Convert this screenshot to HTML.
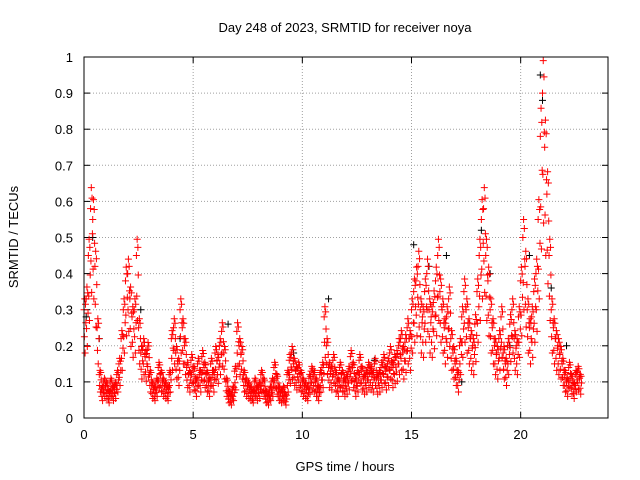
<!DOCTYPE html>
<html><head><meta charset="utf-8"><style>
body{margin:0;background:#fff}
svg{display:block;font-family:"Liberation Sans",sans-serif;font-size:13px}
</style></head><body>
<svg id="c" width="640" height="480">
<text x="345" y="32" text-anchor="middle">Day 248 of 2023, SRMTID for receiver noya</text>
<text x="345" y="471" text-anchor="middle">GPS time / hours</text>
<text transform="translate(18,237) rotate(-90)" text-anchor="middle">SRMTID / TECUs</text>
<g id="grid"></g><g id="marks"></g>
<rect x="84" y="57" width="524" height="361" fill="none" stroke="#000"/>
</svg>
<script>
const xTicks=[0,5,10,15,20];
const yTicks=[0,0.1,0.2,0.3,0.4,0.5,0.6,0.7,0.8,0.9,1];
const yTickLabels=["0","0.1","0.2","0.3","0.4","0.5","0.6","0.7","0.8","0.9","1"];
const tStart=0, tStep=0.1;
const redVals=[
0.30,0.33,0.45,0.58,0.55,0.42,0.25,0.12,0.08,0.10,
0.09,0.07,0.10,0.08,0.09,0.12,0.15,0.22,0.30,0.38,
0.40,0.33,0.28,0.30,0.45,0.25,0.18,0.20,0.17,0.19,
0.12,0.09,0.08,0.10,0.14,0.12,0.10,0.09,0.08,0.12,
0.22,0.25,0.18,0.15,0.30,0.25,0.20,0.14,0.12,0.16,
0.13,0.10,0.15,0.12,0.17,0.14,0.12,0.10,0.15,0.12,
0.18,0.16,0.20,0.24,0.18,0.10,0.07,0.06,0.08,0.13,
0.24,0.20,0.18,0.12,0.10,0.09,0.08,0.07,0.10,0.08,
0.09,0.12,0.10,0.07,0.06,0.08,0.10,0.14,0.11,0.08,
0.07,0.08,0.06,0.12,0.16,0.18,0.15,0.13,0.14,0.12,
0.10,0.09,0.08,0.11,0.13,0.12,0.10,0.08,0.12,0.14,
0.28,0.20,0.14,0.13,0.16,0.12,0.10,0.14,0.12,0.10,
0.11,0.13,0.17,0.14,0.10,0.12,0.16,0.13,0.11,0.12,
0.14,0.13,0.12,0.15,0.11,0.12,0.14,0.16,0.13,0.15,
0.18,0.14,0.16,0.17,0.20,0.22,0.18,0.21,0.25,0.22,
0.30,0.35,0.38,0.42,0.30,0.28,0.35,0.40,0.30,0.28,
0.32,0.38,0.45,0.35,0.30,0.25,0.28,0.33,0.22,0.18,
0.15,0.12,0.20,0.28,0.35,0.30,0.25,0.22,0.20,0.26,
0.35,0.45,0.55,0.58,0.45,0.38,0.30,0.25,0.20,0.18,
0.22,0.28,0.18,0.15,0.20,0.26,0.30,0.22,0.20,0.28,
0.38,0.50,0.42,0.30,0.25,0.28,0.35,0.40,0.55,0.78,
0.90,0.75,0.62,0.45,0.30,0.25,0.22,0.20,0.18,0.15,
0.12,0.10,0.14,0.11,0.09,0.12,0.13,0.11];
const blackTimes=[0.1,0.4,0.7,2.6,4.4,6.6,9.6,11.2,13.3,15.1,15.8,16.6,17.3,18.2,18.6,19.5,20.4,20.9,21.0,21.4,22.1];
const blackVals=[0.28,0.50,0.22,0.30,0.22,0.26,0.18,0.33,0.16,0.48,0.42,0.45,0.10,0.52,0.40,0.20,0.45,0.95,0.88,0.36,0.20];
const spread=[0,-0.25,0.1,-0.4,0.05,-0.12];
const X=t=>84+t*(524/24), Y=v=>418-v*361;
const NS="http://www.w3.org/2000/svg";
const g=document.getElementById('grid'), m=document.getElementById('marks');
function el(n,a,p){const e=document.createElementNS(NS,n);for(const k in a)e.setAttribute(k,a[k]);p.appendChild(e);return e;}
xTicks.forEach(t=>{
 if(t>0){const l=el('line',{x1:X(t),x2:X(t),y1:57,y2:418,stroke:'#a0a0a0','stroke-dasharray':'1,2'},g);
 
 }
 el('line',{x1:X(t),x2:X(t),y1:418,y2:412,stroke:'#000'},g);
 el('line',{x1:X(t),x2:X(t),y1:57,y2:63,stroke:'#000'},g);
 const tx=el('text',{x:X(t),y:439,'text-anchor':'middle'},g);tx.textContent=t;
 
 
});
yTicks.forEach((v,i)=>{
 if(v>0&&v<1){const l=el('line',{x1:84,x2:608,y1:Y(v),y2:Y(v),stroke:'#a0a0a0','stroke-dasharray':'1,2'},g);
 
 }
 el('line',{x1:84,x2:90,y1:Y(v),y2:Y(v),stroke:'#000'},g);
 el('line',{x1:608,x2:602,y1:Y(v),y2:Y(v),stroke:'#000'},g);
 const tx=el('text',{x:73,y:Y(v)+5,'text-anchor':'end'},g);tx.textContent=yTickLabels[i];
 
 
});
function cross(x,y,c,name){
 const p=el('path',{d:`M${x-3.5},${y}h7M${x},${y-3.5}v7`,stroke:c,'stroke-width':1,fill:'none'},m);
 
 
}
blackTimes.forEach((t,i)=>cross(X(t),Y(blackVals[i]),'#000','black-point'));
redVals.forEach((v,i)=>{
 const t=tStart+i*tStep;
 spread.forEach((d,k)=>{
  const vv=Math.max(0.02,Math.min(1,v*(1+d)));
  cross(X(t+k*0.017),Y(vv),'#f00','red-point');
 });
});
</script>
</body></html>
